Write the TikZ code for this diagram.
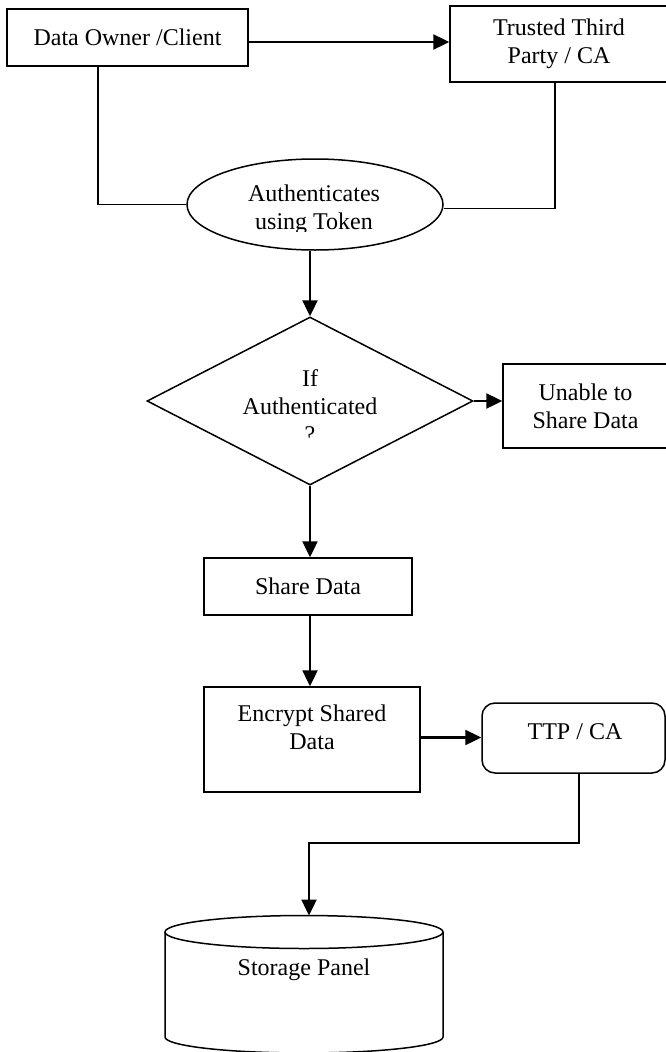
\documentclass[tikz,border=0pt]{standalone}
\usepackage{fontspec}
\setmainfont{Liberation Serif}
\usetikzlibrary{shapes.geometric,arrows.meta}
\begin{document}
\begin{tikzpicture}[x=1pt,y=-1pt,
  every node/.style={font=\fontsize{24}{28}\selectfont, align=center, inner sep=0pt},
  box/.style={draw, line width=1.5pt},
  ln/.style={line width=1.5pt},
  arr/.style={line width=2.4pt, -{Triangle[length=16pt,width=15pt]}}]
\useasboundingbox (0,0) rectangle (666,1052);
\clip (0,0) rectangle (666,1052);

% boxes
\node[box, minimum width=241pt, minimum height=57pt] (owner) at (127.5,37.5) {Data Owner /Client};
\node[box, minimum width=218pt, minimum height=76pt] (ttp) at (559,44) {Trusted Third\\Party / CA};
\node[box, ellipse, minimum width=256pt, minimum height=91pt] (auth) at (315,204.5) {};
\begin{scope}
  \clip (180,150) rectangle (450,231);
  \node (authtxt) at (314,210) {Authenticates\\using Token};
\end{scope}
\node[box, diamond, minimum width=326pt, minimum height=168pt] (dec) at (310,401) {};
\begin{scope}
  \clip (140,300) rectangle (480,438);
  \node (dectxt) at (310,406) {If\\Authenticated\\?};
\end{scope}
\node[box, minimum width=165pt, minimum height=84pt] (unable) at (585.5,406) {Unable to\\Share Data};
\node[box, minimum width=208pt, minimum height=57pt] (share) at (308,586.5) {Share Data};
\node[box, minimum width=216pt, minimum height=105pt] (enc) at (312,739.5) {};
\node (enctxt) at (312,727) {Encrypt Shared\\Data};
\node[box, rounded corners=13pt, minimum width=183pt, minimum height=70pt] (ttpca) at (573.5,738) {};
\node (ttpcatxt) at (575,732) {TTP / CA};

% storage cylinder
\draw[box] (165,932) -- (165,1037) arc[start angle=180, end angle=360, x radius=139pt, y radius=16pt] -- (443,932);
\draw[box] (304,932) ellipse [x radius=139pt, y radius=16.5pt];
\coordinate (storetop) at (309,915.5);
\node (store) at (304,970) {Storage Panel};

% connectors
\coordinate (ya) at (0,42);
\coordinate (xa) at (98,0);
\coordinate (xb) at (555,0);
\draw[arr] (owner.east |- ya) -- (ttp.west |- ya);
\draw[ln] (owner.south -| xa) |- (auth.west);
\draw[ln] (ttp.south -| xb) |- ([yshift=-4pt]auth.east);
\draw[arr] (auth.south -| dec.north) -- (dec.north);
\draw[arr] (dec.east) -- (dec.east -| unable.west);
\draw[arr] (dec.south) -- (dec.south |- share.north);
\draw[arr] ([xshift=2pt]share.south) -- ([xshift=2pt]share.south |- enc.north);
\draw[arr] ([yshift=2pt]enc.east) -- ([yshift=2pt]enc.east -| ttpca.west);
\draw[arr] ([xshift=5.5pt]ttpca.south) -- ++(0,69.5) -| (storetop);
\end{tikzpicture}
\end{document}
